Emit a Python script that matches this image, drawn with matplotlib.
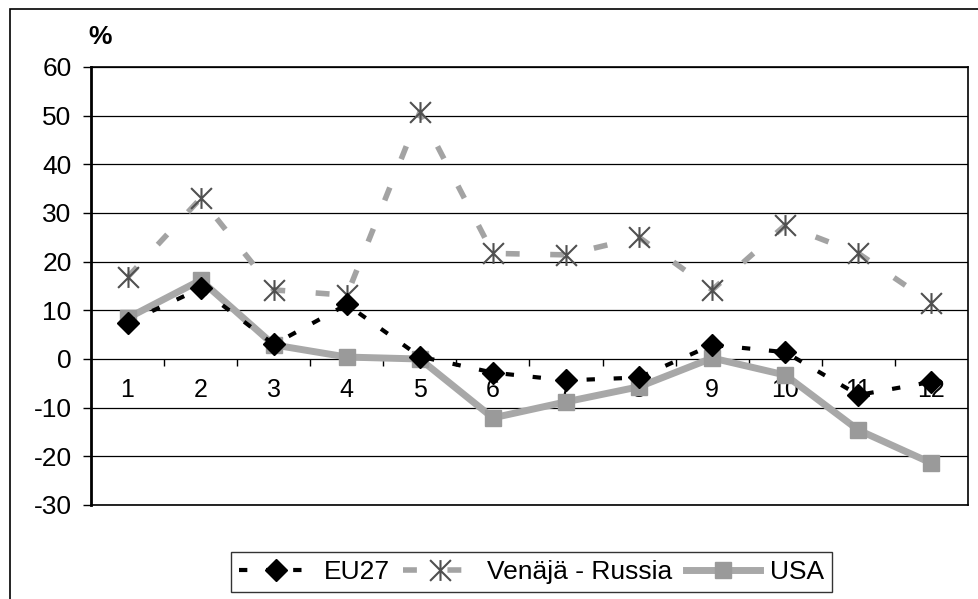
import numpy as np
import matplotlib.pyplot as plt
from matplotlib.patches import Rectangle
from matplotlib.path import Path

# kuukaudet ja muutos-% (luettu kuvasta)
months = [1, 2, 3, 4, 5, 6, 7, 8, 9, 10, 11, 12]
eu27 = [7.5, 14.5, 3, 11.2, 0.5, -2.8, -4.4, -3.8, 2.9, 1.4, -7.4, -4.7]
russia = [16.8, 33, 14.2, 13.1, 50.7, 21.7, 21.4, 25, 14.2, 27.5, 21.7, 11.5]
usa = [8.4, 16.2, 2.9, 0.4, 0, -12.1, -8.8, -5.7, 0.2, -3.3, -14.6, -21.4]

plt.rcParams['font.family'] = ['Liberation Sans', 'DejaVu Sans']
plt.rcParams['axes.unicode_minus'] = False

# Excelin tähti-merkki: X + pystyviiva
star = Path([(-1, -1), (1, 1), (-1, 1), (1, -1), (0, -1), (0, 1)],
            [Path.MOVETO, Path.LINETO, Path.MOVETO, Path.LINETO,
             Path.MOVETO, Path.LINETO])

fig = plt.figure(figsize=(9.79, 5.99), dpi=100)
ax = fig.add_axes([91/979, 94/599, 877/979, 438/599])

x = np.arange(len(months))

ax.plot(x, usa, color='#a8a8a8', lw=5, marker='s', ms=12,
        mfc='#9a9a9a', mec='#9a9a9a', label='USA', zorder=3)
ax.plot(x, eu27, color='black', lw=3, ls=(0, (2, 4.5)), marker='D', ms=11,
        mfc='black', mec='black', label='EU27', zorder=4)
ax.plot(x, russia, color='#a3a3a3', lw=4, ls=(0, (2.5, 5.5)),
        marker=star, ms=15, mec='#505050', mew=1.5,
        label='Venäjä - Russia', zorder=2)

ax.set_xlim(-0.5, 11.5)
ax.set_ylim(-30, 60)
ax.set_yticks(np.arange(-30, 61, 10))
ax.tick_params(axis='y', labelsize=19, length=6, width=1, direction='out', pad=8)
ax.grid(axis='y', color='black', lw=0.9)
ax.set_axisbelow(True)
ax.set_xticks([])
for s in ax.spines.values():
    s.set_linewidth(1.2)
ax.spines['left'].set_linewidth(2)

# kategoria-akseli nollan kohdalla
sec = ax.secondary_xaxis(1/3)
sec.set_xticks(x)
sec.set_xticklabels([str(m) for m in months])
sec.set_xticks(np.arange(0.5, 11, 1), minor=True)
sec.tick_params(which='major', length=0, labelsize=18, pad=14)
sec.tick_params(which='minor', length=5, width=1, direction='out')
sec.spines['bottom'].set_visible(False)

fig.text(88/979, 1 - 37/599, '%', fontsize=19, fontweight='bold',
         va='center', ha='left')

# ulkokehys
fig.patches.append(Rectangle((10/979, -0.1), 1.0, 1 - 9/599 + 0.1,
                             transform=fig.transFigure, fill=False,
                             edgecolor='black', lw=1.2))

h, l = ax.get_legend_handles_labels()
order = [1, 2, 0]
leg = fig.legend([h[i] for i in order], [l[i] for i in order],
                 loc='center', bbox_to_anchor=(0.543, 0.045), ncol=3,
                 fontsize=19, frameon=True, fancybox=False, edgecolor='black',
                 handlelength=2.8, columnspacing=0.5, handletextpad=0.4,
                 borderpad=0.3, borderaxespad=0)
leg.get_frame().set_linewidth(1)

plt.savefig('out.png', dpi=100)
